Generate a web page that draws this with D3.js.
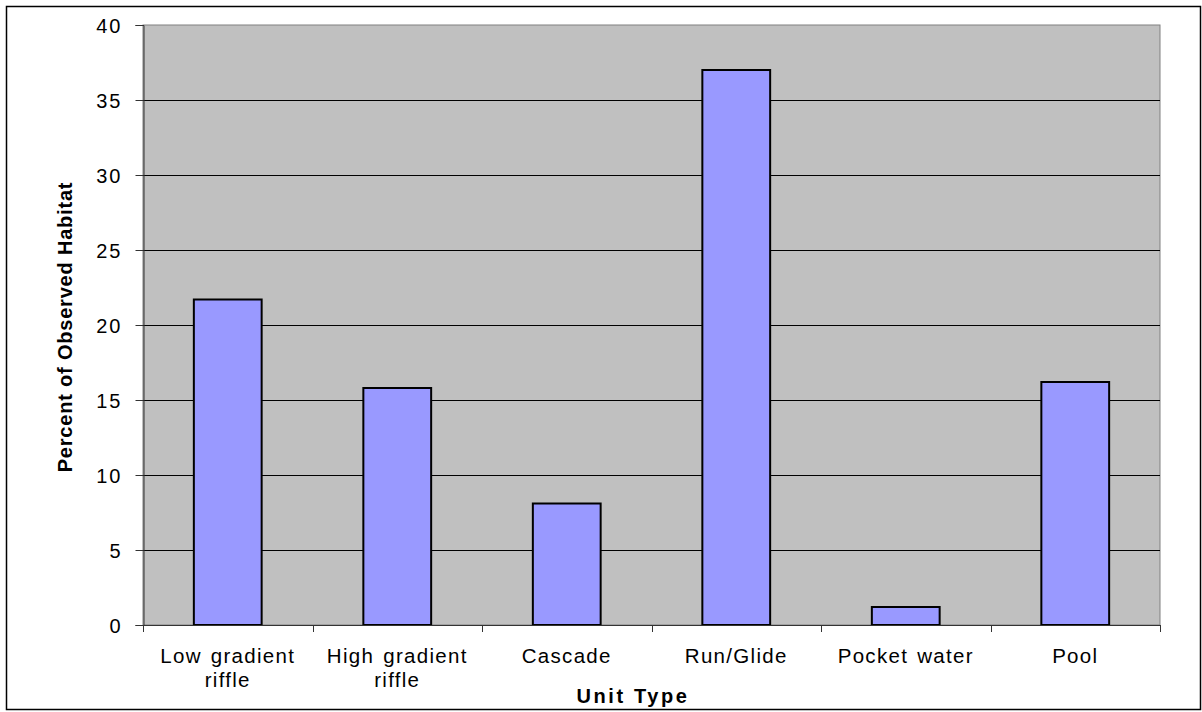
<!DOCTYPE html>
<html>
<head>
<meta charset="utf-8">
<script src="https://cdn.jsdelivr.net/npm/d3@7/dist/d3.min.js"></script>
<style>
  html, body { margin: 0; padding: 0; background: #fff; }
  svg { display: block; font-family: Arial, "Liberation Sans", sans-serif; }
</style>
</head>
<body>
<svg id="chart" width="1202" height="712"></svg>
<script>
// Habitat unit types (line breaks mark wrapped axis labels)
const categories = [
  "Low gradient\nriffle",
  "High gradient\nriffle",
  "Cascade",
  "Run/Glide",
  "Pocket water",
  "Pool"
];
// Percent of observed habitat per unit type
const percentValues = [21.7, 15.8, 8.1, 37.0, 1.2, 16.2];
// Value-axis ticks
const yTicks = [0, 5, 10, 15, 20, 25, 30, 35, 40];

const svg = d3.select("#chart");
const plot = { left: 143, right: 1160, top: 25, bottom: 625 };

const x = d3.scaleBand()
  .domain(categories)
  .range([plot.left, plot.right])
  .paddingInner(0.6)
  .paddingOuter(0.3);

const y = d3.scaleLinear()
  .domain([0, 40])
  .range([plot.bottom, plot.top]);

// Outer chart frame
svg.append("rect")
  .attr("x", 6.5).attr("y", 6.5)
  .attr("width", 1194).attr("height", 703)
  .attr("fill", "#fff")
  .attr("stroke", "#000")
  .attr("stroke-width", 1.5);

// Plot area background
svg.append("rect")
  .attr("x", plot.left).attr("y", plot.top)
  .attr("width", plot.right - plot.left)
  .attr("height", plot.bottom - plot.top)
  .attr("fill", "#c0c0c0")
  .attr("stroke", "#808080")
  .attr("stroke-width", 1);

// Horizontal gridlines
svg.append("g")
  .selectAll("line")
  .data(yTicks.filter(t => t > 0 && t < 40))
  .join("line")
  .attr("x1", plot.left).attr("x2", plot.right)
  .attr("y1", d => Math.round(y(d)) + 0.5)
  .attr("y2", d => Math.round(y(d)) + 0.5)
  .attr("stroke", "#000")
  .attr("stroke-width", 1);

// Bars
svg.append("g")
  .selectAll("rect")
  .data(categories.map((c, i) => ({ c, v: percentValues[i] })))
  .join("rect")
  .attr("x", d => x(d.c))
  .attr("y", d => y(d.v))
  .attr("width", x.bandwidth())
  .attr("height", d => y(0) - y(d.v))
  .attr("fill", "#9999ff")
  .attr("stroke", "#000")
  .attr("stroke-width", 2);

// Y axis
const yAxis = d3.axisLeft(y)
  .tickValues(yTicks)
  .tickSize(8)
  .tickPadding(13)
  .tickFormat(d3.format("d"));

const gy = svg.append("g")
  .attr("transform", `translate(${plot.left + 0.5},0)`)
  .call(yAxis);
gy.select(".domain").attr("stroke", "#333").attr("stroke-width", 1);
gy.selectAll(".tick line").attr("stroke", "#333");
gy.selectAll(".tick text")
  .attr("fill", "#000")
  .attr("font-size", 20)
  .attr("letter-spacing", "2px")
  .attr("dy", "0.35em");

// X axis: line with ticks at category boundaries
const step = x.step();
const boundaries = d3.range(categories.length + 1)
  .map(i => plot.left + i * step);

svg.append("line")
  .attr("x1", plot.left).attr("x2", plot.right)
  .attr("y1", plot.bottom + 0.5).attr("y2", plot.bottom + 0.5)
  .attr("stroke", "#333").attr("stroke-width", 1);

svg.append("g")
  .selectAll("line")
  .data(boundaries)
  .join("line")
  .attr("x1", d => Math.round(d) + 0.5).attr("x2", d => Math.round(d) + 0.5)
  .attr("y1", plot.bottom).attr("y2", plot.bottom + 7)
  .attr("stroke", "#333");

// Category labels
const labels = svg.append("g")
  .attr("font-size", 20.5)
  .attr("letter-spacing", "1.3px")
  .attr("word-spacing", "2px")
  .attr("text-anchor", "middle")
  .attr("fill", "#000");

labels.selectAll("text")
  .data(categories)
  .join("text")
  .attr("x", d => x(d) + x.bandwidth() / 2)
  .attr("y", 663)
  .each(function (d) {
    const lines = d.split("\n");
    d3.select(this).selectAll("tspan")
      .data(lines)
      .join("tspan")
      .attr("x", x(d) + x.bandwidth() / 2)
      .attr("dy", (l, i) => i === 0 ? 0 : 24)
      .text(l => l);
  });

// Axis titles
svg.append("text")
  .attr("x", 633)
  .attr("y", 703)
  .attr("text-anchor", "middle")
  .attr("font-size", 20)
  .attr("font-weight", "bold")
  .attr("letter-spacing", "2.6px")
  .text("Unit Type");

svg.append("text")
  .attr("transform", `translate(72,${(plot.top + plot.bottom) / 2 + 2}) rotate(-90)`)
  .attr("text-anchor", "middle")
  .attr("font-size", 20)
  .attr("font-weight", "bold")
  .attr("letter-spacing", "0.8px")
  .text("Percent of Observed Habitat");
</script>
</body>
</html>
